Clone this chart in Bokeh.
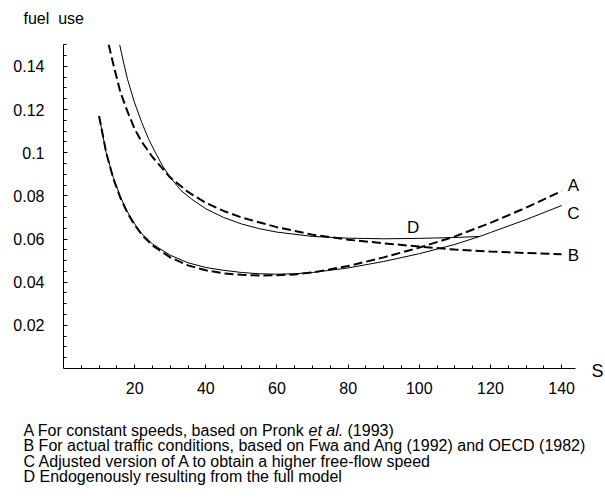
from bokeh.plotting import figure
from bokeh.models import FixedTicker, Label
from bokeh.embed import file_html
from bokeh.resources import INLINE

# ---- data ----
a_speed = [10, 12, 14, 16, 18, 20, 22, 25, 30, 35, 40, 45, 50, 55, 60, 65, 70, 80, 90, 100, 110, 120, 130, 140]
a_fuel = [0.117, 0.100, 0.088, 0.079, 0.072, 0.0665, 0.062, 0.0570, 0.0515, 0.0478, 0.0455, 0.0441, 0.0434,
          0.0431, 0.0432, 0.0436, 0.0445, 0.0475, 0.0515, 0.0560, 0.0612, 0.0675, 0.0745, 0.0822]

c_speed = [10, 12, 14, 16, 18, 20, 22, 25, 30, 35, 40, 45, 50, 55, 60, 65, 70, 80, 90, 100, 110, 117, 120, 130, 140]
c_fuel = [0.117, 0.100, 0.0885, 0.0795, 0.0725, 0.067, 0.0625, 0.0577, 0.0525, 0.0490, 0.0468, 0.0455, 0.0445,
          0.0439, 0.0437, 0.0439, 0.0445, 0.0466, 0.0496, 0.0532, 0.0575, 0.0612, 0.0630, 0.0690, 0.0755]

b_speed = [12.7, 14, 16, 18, 20, 22, 25, 30, 35, 40, 45, 50, 60, 70, 80, 90, 100, 110, 120, 130, 140]
b_fuel = [0.150, 0.141, 0.128, 0.119, 0.111, 0.105, 0.098, 0.0885, 0.0818, 0.0768, 0.0730, 0.0700, 0.0655,
          0.0620, 0.0597, 0.0580, 0.0565, 0.0551, 0.0542, 0.0535, 0.0530]

d_speed = [15.8, 17, 18, 20, 22, 24, 26, 28, 30, 33, 36, 40, 45, 50, 55, 60, 70, 80, 90, 100, 110, 117]
d_fuel = [0.150, 0.141, 0.134, 0.123, 0.114, 0.106, 0.0995, 0.0935, 0.0886, 0.0825, 0.0785, 0.0740, 0.0700,
          0.0670, 0.0648, 0.0632, 0.0612, 0.0604, 0.0601, 0.0603, 0.0607, 0.0612]

x_ticks = [20, 40, 60, 80, 100, 120, 140]
x_tick_labels = ["20", "40", "60", "80", "100", "120", "140"]
y_ticks = [0.02, 0.04, 0.06, 0.08, 0.10, 0.12, 0.14]
y_tick_labels = ["0.02", "0.04", "0.06", "0.08", "0.1", "0.12", "0.14"]

curve_labels = ["A", "B", "C", "D"]
curve_label_x = [143.3, 143.3, 143.3, 98.3]
curve_label_y = [0.0850, 0.0523, 0.0720, 0.0655]

footnotes = [
    ("A For constant speeds, based on Pronk", "et al.", "(1993)"),
    ("B For actual traffic conditions, based on Fwa and Ang (1992) and OECD (1982)", "", ""),
    ("C Adjusted version of A to obtain a higher free-flow speed", "", ""),
    ("D Endogenously resulting from the full model", "", ""),
]

FONT = "Liberation Sans"
W, H = 605, 504
X0, Y0 = 63.0, 368.0          # screen position of the origin
SX, SY = 3.558, 2158.0        # pixels per data unit

p = figure(width=W, height=H, output_backend="svg", toolbar_location=None,
           x_range=(-X0 / SX, (W - X0) / SX), y_range=(-(H - Y0) / SY, Y0 / SY),
           min_border=0, min_border_left=0, min_border_right=0, min_border_top=0, min_border_bottom=0)
p.outline_line_color = None
p.xgrid.visible = False
p.ygrid.visible = False
p.background_fill_color = "white"

for ax in (p.xaxis[0], p.yaxis[0]):
    ax.fixed_location = 0
    ax.axis_line_color = "black"
    ax.axis_line_width = 1
    ax.major_tick_in = 4
    ax.major_tick_out = 0
    ax.minor_tick_in = 3
    ax.minor_tick_out = 0
    ax.major_tick_line_color = "black"
    ax.minor_tick_line_color = "black"
    ax.major_label_text_font = FONT
    ax.major_label_text_font_size = "16px"
    ax.major_label_text_color = "black"

minor_x = [v for v in range(5, 145, 5) if v % 20 != 0]
p.xaxis.ticker = FixedTicker(ticks=x_ticks, minor_ticks=minor_x)
p.xaxis.major_label_overrides = dict(zip(x_ticks, x_tick_labels))
p.xaxis.major_label_standoff = 13
p.xaxis.bounds = (0, 143.8)

minor_y = [round(0.005 * i, 3) for i in range(1, 31)]
p.yaxis.ticker = FixedTicker(ticks=y_ticks, minor_ticks=minor_y)
p.yaxis.major_label_overrides = dict(zip(y_ticks, y_tick_labels))
p.yaxis.major_label_standoff = 19
p.yaxis.bounds = (0, 0.150)

p.line(a_speed, a_fuel, line_color="black", line_width=2, line_dash="9 4")
p.line(c_speed, c_fuel, line_color="black", line_width=1)
p.line(b_speed, b_fuel, line_color="black", line_width=2, line_dash="9 4")
p.line(d_speed, d_fuel, line_color="black", line_width=1)

for t, x, y in zip(curve_labels, curve_label_x, curve_label_y):
    p.add_layout(Label(x=x, y=y, text=t, text_font=FONT, text_font_size="17px",
                       text_align="center", text_baseline="middle", text_color="black"))

p.add_layout(Label(x=(597 - X0) / SX, y=(Y0 - 370) / SY, text="S", text_font=FONT, text_font_size="18px",
                   text_align="center", text_baseline="middle", text_color="black"))

# texts placed in screen pixels (frame covers the whole canvas)
p.add_layout(Label(x=23, y=H - 18, x_units="screen", y_units="screen", text="fuel\u00a0 use",
                   text_font=FONT, text_font_size="16px", text_align="left",
                   text_baseline="middle", text_color="black"))

for i, (pre, ital, post) in enumerate(footnotes):
    yy = H - (430 + 15.3 * i)
    p.add_layout(Label(x=23, y=yy, x_units="screen", y_units="screen", text=pre,
                       text_font=FONT, text_font_size="16px", text_align="left",
                       text_baseline="middle", text_color="black"))
    if ital:
        p.add_layout(Label(x=23 + 285, y=yy, x_units="screen", y_units="screen", text=ital,
                           text_font=FONT, text_font_size="16px", text_font_style="italic",
                           text_align="left", text_baseline="middle", text_color="black"))
        p.add_layout(Label(x=23 + 285 + 39, y=yy, x_units="screen", y_units="screen", text=post,
                           text_font=FONT, text_font_size="16px", text_align="left",
                           text_baseline="middle", text_color="black"))

open("out.html", "w").write(file_html(p, INLINE))
